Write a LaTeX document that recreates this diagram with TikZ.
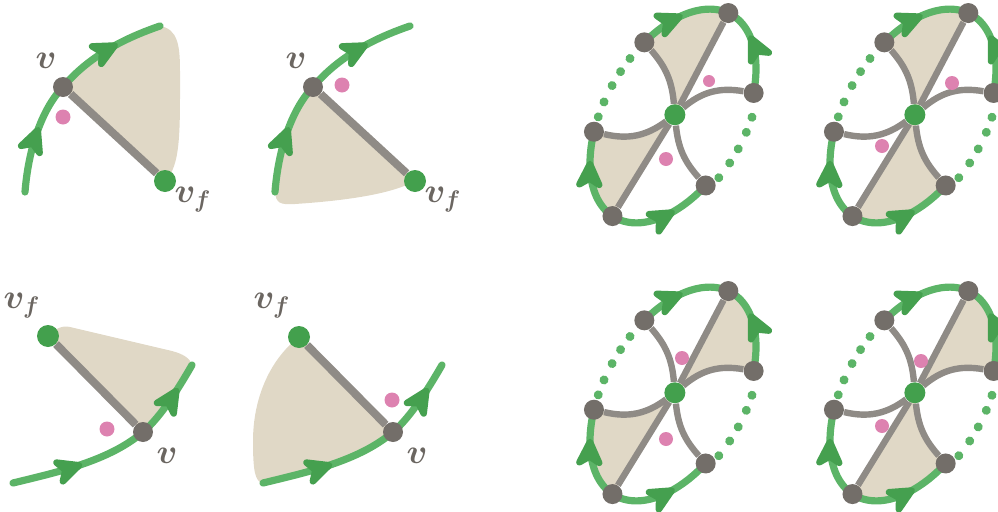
\documentclass[tikz,border=0pt]{standalone}
\usetikzlibrary{arrows.meta, decorations.markings}

\definecolor{trailgreen}{HTML}{5CB467}
\definecolor{tipgreen}{HTML}{45A04F}
\definecolor{rootgreen}{HTML}{43A04D}
\definecolor{vgrey}{HTML}{736E69}
\definecolor{edgegrey}{HTML}{8F8B86}
\definecolor{sand}{HTML}{E0D8C6}
\definecolor{dotpink}{HTML}{DD82B0}
\definecolor{labelgrey}{HTML}{6B6661}

\tikzset{tipg/.tip={Stealth[length=18pt, width=17pt, inset=5pt, round, color=tipgreen]}}

% 바퀴 꼭짓점
\newcommand{\wheelpts}{%
  \coordinate (c) at (2,-1);
  \coordinate (tr) at (3:117 and 68);
  \coordinate (r) at (-59:117 and 68);
  \coordinate (br) at (-112:117 and 68);
  \coordinate (bl) at (178:117 and 68);
  \coordinate (l) at (117:117 and 68);
  \coordinate (tl) at (65:117 and 68);
}
% 칠한 조각
\newcommand{\wedgetop}{\fill[sandfill] (c) to[bend right=18] (tl) -- plot[rim={65}{3}] (\t:117 and 68) -- cycle;}
\newcommand{\wedgeleft}{\fill[sandfill] (c) to[bend left=25] (l) -- plot[rim={117}{178}] (\t:117 and 68) -- cycle;}
\newcommand{\wedgebottom}{\fill[sandfill] (c) -- (bl) -- plot[rim={178}{248}] (\t:117 and 68) to[bend left=18] (c);}
\newcommand{\wedgeright}{\fill[sandfill] (c) -- (tr) -- plot[rim={3}{-59}] (\t:117 and 68) to[bend right=25] (c);}
\newcommand{\drawwheel}[1]{%
  % 테두리
  \draw[trail, midtip=0.5] plot[rim={65}{3}] (\t:117 and 68);
  \draw[trail, midtip=0.65] plot[rim={-59}{3}] (\t:117 and 68);
  \draw[trail, midtip=0.62] plot[rim={178}{248}] (\t:117 and 68);
  \draw[trail, midtip=0.68] plot[rim={178}{117}] (\t:117 and 68);
  \foreach \a in {76,84,92,101,109} \fill[trailgreen] (\a:117 and 68) circle[radius=4.5];
  \foreach \a in {-71,-79,-88,-96,-105} \fill[trailgreen] (\a:118 and 73) circle[radius=4.5];
  % 꼭짓점
  \node[root] (#1-c) at (c) {};
  \foreach \nm in {tr,r,br,bl,l,tl} \node[vtx] (#1-\nm) at (\nm) {};
  % 바퀴살
  \draw[spoke] (#1-c) -- (#1-tr);
  \draw[spoke] (#1-c) -- (#1-bl);
  \draw[spoke] (#1-c) to[bend right=18] (#1-tl);
  \draw[spoke] (#1-c) to[bend right=18] (#1-br);
  \draw[spoke] (#1-c) to[bend left=25] (#1-r);
  \draw[spoke] (#1-c) to[bend left=25] (#1-l);
}

\begin{document}
\begin{tikzpicture}[x=0.5pt, y=0.5pt,
  trail/.style={draw=trailgreen, line width=3.6pt, line cap=round},
  midtip/.style={postaction={decorate, decoration={markings, mark=at position #1 with {\arrow{tipg}}}}},
  edge/.style={draw=edgegrey, line width=4pt},
  spoke/.style={draw=edgegrey, line width=3.2pt},
  sandfill/.style={fill=sand},
  rim/.style 2 args={domain=#1:#2, variable=\t, samples=30},
  vtx/.style={circle, fill=vgrey, inner sep=0pt, minimum size=#1}, vtx/.default=10pt,
  root/.style={circle, fill=rootgreen, inner sep=0pt, minimum size=#1}, root/.default=10.5pt,
  blob/.style={circle, fill=dotpink, inner sep=0pt, minimum size=#1}, blob/.default=7pt,
  lab/.style={text=labelgrey, font=\LARGE\boldmath, inner sep=0pt}]
  \useasboundingbox (0,0) rectangle (998,511);

  % 왼쪽 위 (1)
  \coordinate (s1) at (25,319);
  \coordinate (m1) at (63,424);
  \coordinate (e1) at (160,485);
  \coordinate (f1) at (165,330);
  \fill[sandfill] (m1) .. controls (89,455) and (125,473) .. (e1)
    .. controls (178,482) and (180,465) .. (180,440)
    .. controls (180,380) and (181,345) .. (f1) -- cycle;
  \draw[trail, midtip=0.29, midtip=0.8] (s1) .. controls (28,358) and (40,400) .. (m1)
    .. controls (89,455) and (125,473) .. (e1);
  \node[vtx] (v1) at (m1) {};
  \node[root=11pt] (vf1) at (f1) {};
  \draw[edge] (v1) -- (vf1);
  \node[blob=7.5pt] (p1) at (63,394) {};
  \node[lab] (lv1) at (46,450) {$v$};
  \node[lab] (lvf1) at (193,311) {$v_f$};

  % 왼쪽 위 (2)
  \begin{scope}[shift={(250,0)}]
    \coordinate (s2) at (25,319);
    \coordinate (m2) at (63,424);
    \coordinate (e2) at (160,485);
    \coordinate (f2) at (165,330);
    \fill[sandfill] (m2) .. controls (40,400) and (28,358) .. (s2)
      .. controls (26,308) and (30,306) .. (45,307)
      .. controls (90,310) and (140,316) .. (f2) -- cycle;
    \draw[trail, midtip=0.29, midtip=0.8] (s2) .. controls (28,358) and (40,400) .. (m2)
      .. controls (89,455) and (125,473) .. (e2);
    \node[vtx] (v2) at (m2) {};
    \node[root=11pt] (vf2) at (f2) {};
    \draw[edge] (v2) -- (vf2);
    \node[blob=7.5pt] (p2) at (92,426) {};
    \node[lab] (lv2) at (46,450) {$v$};
    \node[lab] (lvf2) at (193,311) {$v_f$};
  \end{scope}

  % 왼쪽 아래 (3)
  \coordinate (s3) at (13,28);
  \coordinate (m3) at (143,79);
  \coordinate (e3) at (192,146);
  \coordinate (f3) at (48,175);
  \fill[sandfill] (f3) -- (m3) .. controls (162,95) and (181,127) .. (e3)
    .. controls (190,153) and (183,157) .. (172,160) -- (70,184)
    .. controls (62,186) and (55,182) .. (f3) -- cycle;
  \draw[trail, midtip=0.32, midtip=0.88] (s3) .. controls (58,39) and (109,50) .. (m3)
    .. controls (162,95) and (181,127) .. (e3);
  \node[vtx] (v3) at (m3) {};
  \node[root=11pt] (vf3) at (f3) {};
  \draw[edge] (v3) -- (vf3);
  \node[blob=7.5pt] (p3) at (107,82) {};
  \node[lab] (lv3) at (167,55) {$v$};
  \node[lab] (lvf3) at (22,205) {$v_f$};

  % 왼쪽 아래 (4)
  \begin{scope}[shift={(250,0)}]
    \coordinate (s4) at (13,28);
    \coordinate (m4) at (143,79);
    \coordinate (e4) at (192,146);
    \coordinate (f4) at (49,174);
    \fill[sandfill] (f4) -- (m4) .. controls (109,50) and (58,39) .. (s4)
      .. controls (5,29) and (3,40) .. (3,70)
      .. controls (3,110) and (18,150) .. (f4) -- cycle;
    \draw[trail, midtip=0.32, midtip=0.88] (s4) .. controls (58,39) and (109,50) .. (m4)
      .. controls (162,95) and (181,127) .. (e4);
    \node[vtx] (v4) at (m4) {};
    \node[root=11pt] (vf4) at (f4) {};
    \draw[edge] (v4) -- (vf4);
    \node[blob=7.5pt] (p4) at (142,111) {};
    \node[lab] (lv4) at (167,55) {$v$};
    \node[lab] (lvf4) at (22,205) {$v_f$};
  \end{scope}

  % 바퀴 (5)
  \begin{scope}[shift={(673,395)}, rotate=60]
    \wheelpts
    \wedgetop
    \wedgeleft
    \drawwheel{a}
  \end{scope}
  \node[blob=6pt] (p5a) at (709,430) {};
  \node[blob] (p5b) at (666,352) {};

  % 바퀴 (6)
  \begin{scope}[shift={(913,395)}, rotate=60]
    \wheelpts
    \wedgetop
    \wedgebottom
    \drawwheel{b}
  \end{scope}
  \node[blob] (p6a) at (952,428) {};
  \node[blob] (p6b) at (882,365) {};

  % 바퀴 (7)
  \begin{scope}[shift={(673,117)}, rotate=60]
    \wheelpts
    \wedgeright
    \wedgeleft
    \drawwheel{c}
  \end{scope}
  \node[blob] (p7a) at (682,153) {};
  \node[blob] (p7b) at (666,72) {};

  % 바퀴 (8)
  \begin{scope}[shift={(913,117)}, rotate=60]
    \wheelpts
    \wedgeright
    \wedgebottom
    \drawwheel{d}
  \end{scope}
  \node[blob] (p8a) at (921,150) {};
  \node[blob] (p8b) at (882,85) {};
\end{tikzpicture}
\end{document}
